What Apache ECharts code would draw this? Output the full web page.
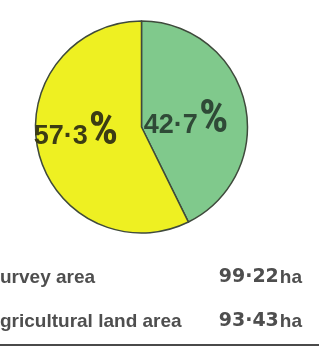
<!DOCTYPE html>
<html>
<head>
<meta charset="utf-8">
<script src="https://cdn.jsdelivr.net/npm/echarts@6/dist/echarts.min.js"></script>
<style>
  html, body { margin: 0; padding: 0; background: #fff; }
  #chart { width: 319px; height: 348px; }
</style>
</head>
<body>
<div id="chart"></div>
<script>
// slice data (share of survey area)
const sliceNames = ['Agricultural land', 'Other'];
const sliceValues = [42.7, 57.3];
const sliceColors = ['#80c98c', '#eef022'];
const sliceText = ['42·7', '57·3'];

// table under the pie
const rowLabels = ['urvey area', 'gricultural land area'];
const rowValues = ['99·22', '93·43'];

const chart = echarts.init(document.getElementById('chart'));

const labelRich = {
  num: { fontFamily: 'Liberation Sans', fontWeight: 'bold', fontSize: 27, verticalAlign: 'bottom' },
  pct: { fontFamily: '"Roboto Condensed"', fontWeight: 'bold', fontSize: 46, verticalAlign: 'bottom', padding: [0, 0, -5, 1] }
};
const labelOffsets = [[-10, 4], [-11, -10]];
const labelColors = ['#2f4a37', '#3c3c14'];

const rowGraphics = [];
rowLabels.forEach((t, i) => {
  rowGraphics.push({
    type: 'text', left: 0, top: 268 + i * 44,
    style: { text: t, fontFamily: 'Liberation Sans', fontWeight: 'bold', fontSize: 19, fill: '#4e4e4e' }
  });
  rowGraphics.push({
    type: 'text', right: 17, top: 268 + i * 44,
    style: {
      text: '{v|' + rowValues[i] + '}{u|ha}',
      rich: {
        v: { fontFamily: 'DejaVu Sans', fontWeight: 'bold', fontSize: 19, fill: '#4e4e4e' },
        u: { fontFamily: 'Liberation Sans', fontWeight: 'bold', fontSize: 19, fill: '#4e4e4e', padding: [0, 0, 0, 1] }
      }
    }
  });
});

chart.setOption({
  animation: false,
  series: [{
    type: 'pie',
    center: [141.5, 127],
    radius: 106,
    startAngle: 90,
    clockwise: true,
    silent: true,
    itemStyle: { borderColor: '#3f4a3c', borderWidth: 1.5 },
    labelLine: { show: false },
    data: sliceValues.map((v, i) => ({
      name: sliceNames[i],
      value: v,
      itemStyle: { color: sliceColors[i] },
      label: {
        show: true,
        position: 'inside',
        offset: labelOffsets[i],
        formatter: '{num|' + sliceText[i] + '}{pct|%}',
        color: labelColors[i],
        rich: labelRich
      }
    }))
  }],
  graphic: rowGraphics.concat([{
    type: 'line',
    shape: { x1: 0, y1: 345, x2: 319, y2: 345 },
    style: { stroke: '#4a4a4a', lineWidth: 2 }
  }])
});
</script>
</body>
</html>
